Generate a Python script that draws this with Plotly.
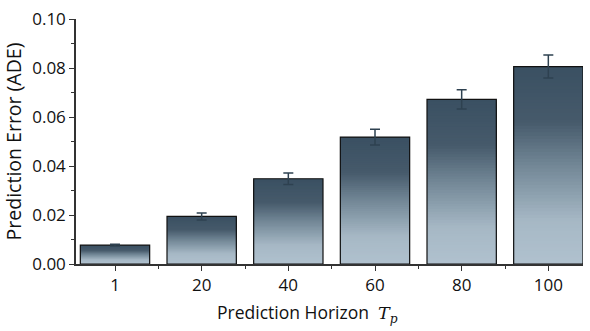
import plotly.graph_objects as go
import numpy as np

categories = ["1", "20", "40", "60", "80", "100"]
ade_values = [0.0077, 0.0194, 0.0348, 0.0518, 0.0672, 0.0806]
ade_errors = [0.0004, 0.0014, 0.0023, 0.0032, 0.0039, 0.0047]
y_ticks = [0.00, 0.02, 0.04, 0.06, 0.08, 0.10]

# gradient stops (fraction from bottom of bar -> rgb)
stops = [(0.0, (176, 193, 206)), (0.22, (166, 184, 197)), (0.5, (114, 135, 150)),
         (0.72, (70, 90, 107)), (1.0, (58, 80, 98))]

def grad(t):
    for (t0, c0), (t1, c1) in zip(stops[:-1], stops[1:]):
        if t0 <= t <= t1:
            f = (t - t0) / (t1 - t0)
            return "rgb(%d,%d,%d)" % tuple(round(a + (b - a) * f) for a, b in zip(c0, c1))
    return "rgb(%d,%d,%d)" % stops[-1][1]

x = list(range(len(categories)))
vals = np.array(ade_values)
N = 60
fig = go.Figure()
for k in range(N):
    frac = (N - k) / N
    fig.add_trace(go.Bar(x=x, y=vals * frac, width=0.8,
                         marker=dict(color=grad(frac - 0.5 / N), line=dict(width=0)),
                         hoverinfo="skip", showlegend=False))
fig.add_trace(go.Bar(x=x, y=vals, width=0.8,
                     marker=dict(color="rgba(0,0,0,0)", line=dict(color="#111", width=1.2)),
                     error_y=dict(type="data", array=ade_errors, color="#2e4150",
                                  thickness=1.5, width=5),
                     showlegend=False))

fig.add_annotation(
    text="Prediction Horizon  <span style='font-family:DejaVu Serif'><i>T</i><sub><i>p</i></sub></span>",
    xref="paper", yref="paper", x=0.457, y=-0.14, xanchor="center", yanchor="top",
    showarrow=False, font=dict(size=17.5, color="#111"))

fig.update_layout(
    barmode="overlay",
    width=590, height=331,
    margin=dict(l=76, r=7, t=17, b=67),
    plot_bgcolor="white", paper_bgcolor="white",
    font=dict(family="Open Sans, Noto Sans, sans-serif", size=17, color="#111"),
    xaxis=dict(range=[-0.45, 5.4], tickvals=x, ticktext=categories,
               showline=True, linecolor="#333", linewidth=1.5,
               ticks="outside", ticklen=5, tickwidth=1.2, tickcolor="#333",
               minor=dict(tickvals=[0.5, 1.5, 2.5, 3.5, 4.5], ticks="outside",
                          ticklen=3, tickcolor="#333", tickwidth=1.2),
               showgrid=False, zeroline=False),
    yaxis=dict(range=[0, 0.1], tickvals=y_ticks, tickformat=".2f",
               showline=True, linecolor="#333", linewidth=1.5,
               ticks="outside", ticklen=5, tickwidth=1.2, tickcolor="#333",
               minor=dict(dtick=0.01, ticks="outside", ticklen=3, tickcolor="#333", tickwidth=1.2),
               showgrid=False, zeroline=False,
               title=dict(text="Prediction Error (ADE)", font=dict(size=19.5), standoff=5)),
)
fig.write_html("out.html")
